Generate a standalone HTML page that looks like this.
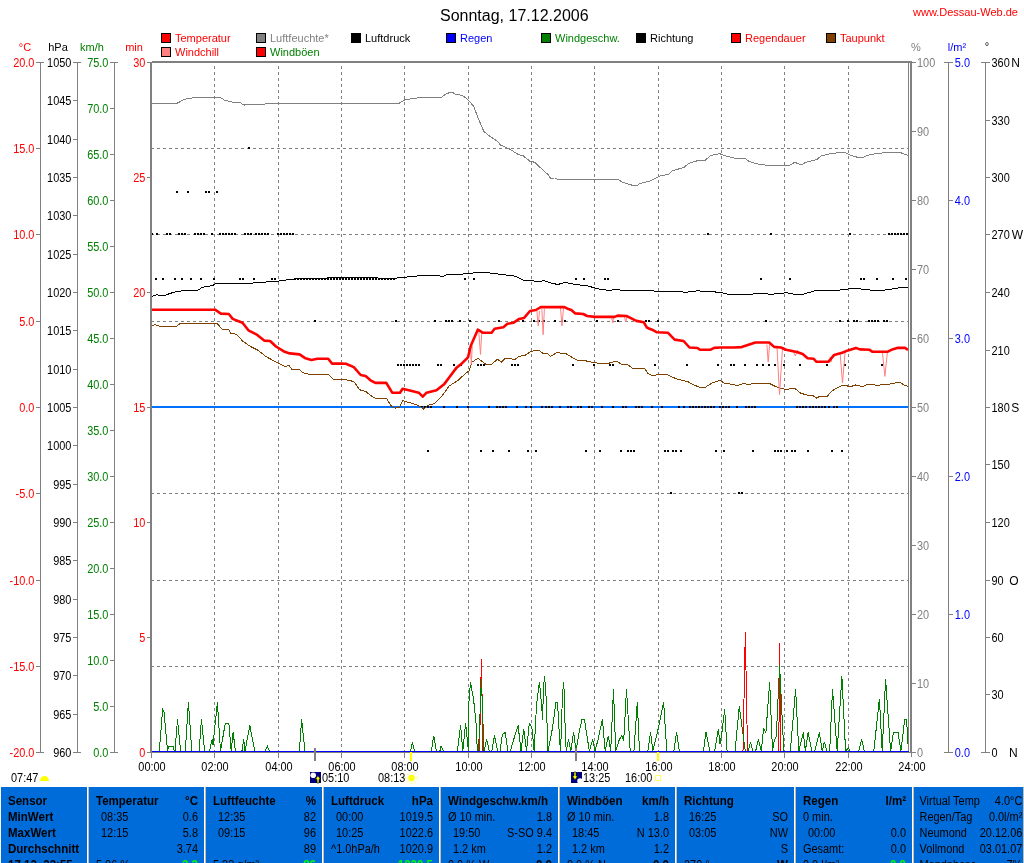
<!DOCTYPE html><html><head><meta charset="utf-8"><style>html,body{margin:0;padding:0;background:#fff;}body{width:1024px;height:863px;overflow:hidden;position:relative;}svg{position:absolute;left:0;top:0;font-family:"Liberation Sans", sans-serif;will-change:transform;}</style></head><body>
<svg width="1024" height="863" viewBox="0 0 1024 863">
<text x="440" y="21" fill="#000" text-anchor="start" font-size="16" >Sonntag, 17.12.2006</text>
<text x="913" y="16" fill="#FF0000" text-anchor="start" font-size="11" >www.Dessau-Web.de</text>
<rect x="161.5" y="33.5" width="9" height="9" fill="#FF0000" stroke="#000" stroke-width="1"/>
<text x="175" y="42" fill="#FF0000" text-anchor="start" font-size="11" >Temperatur</text>
<rect x="256.5" y="33.5" width="9" height="9" fill="#808080" stroke="#000" stroke-width="1"/>
<text x="270" y="42" fill="#808080" text-anchor="start" font-size="11" >Luftfeuchte*</text>
<rect x="351.5" y="33.5" width="9" height="9" fill="#000" stroke="#000" stroke-width="1"/>
<text x="365" y="42" fill="#000" text-anchor="start" font-size="11" >Luftdruck</text>
<rect x="446.5" y="33.5" width="9" height="9" fill="#0000FF" stroke="#000" stroke-width="1"/>
<text x="460" y="42" fill="#0000FF" text-anchor="start" font-size="11" >Regen</text>
<rect x="541.5" y="33.5" width="9" height="9" fill="#008000" stroke="#000" stroke-width="1"/>
<text x="555" y="42" fill="#008000" text-anchor="start" font-size="11" >Windgeschw.</text>
<rect x="636.5" y="33.5" width="9" height="9" fill="#000" stroke="#000" stroke-width="1"/>
<text x="650" y="42" fill="#000" text-anchor="start" font-size="11" >Richtung</text>
<rect x="731.5" y="33.5" width="9" height="9" fill="#FF0000" stroke="#000" stroke-width="1"/>
<text x="745" y="42" fill="#FF0000" text-anchor="start" font-size="11" >Regendauer</text>
<rect x="826.5" y="33.5" width="9" height="9" fill="#804000" stroke="#000" stroke-width="1"/>
<text x="840" y="42" fill="#FF0000" text-anchor="start" font-size="11" >Taupunkt</text>
<rect x="161.5" y="47.5" width="9" height="9" fill="#FF8080" stroke="#000" stroke-width="1"/>
<text x="175" y="56" fill="#FF0000" text-anchor="start" font-size="11" >Windchill</text>
<rect x="256.5" y="47.5" width="9" height="9" fill="#FF0000" stroke="#000" stroke-width="1"/>
<text x="270" y="56" fill="#008000" text-anchor="start" font-size="11" >Windböen</text>
<text x="25" y="51" fill="#FF0000" text-anchor="middle" font-size="11" >°C</text>
<text x="58" y="51" fill="#000" text-anchor="middle" font-size="11" >hPa</text>
<text x="92" y="51" fill="#008000" text-anchor="middle" font-size="11" >km/h</text>
<text x="134" y="51" fill="#FF0000" text-anchor="middle" font-size="11" >min</text>
<text x="916" y="51" fill="#808080" text-anchor="middle" font-size="11" >%</text>
<text x="957" y="51" fill="#0000FF" text-anchor="middle" font-size="11" >l/m²</text>
<text x="987" y="50" fill="#000" text-anchor="middle" font-size="11" >°</text>
<path d="M151 148.5H909 M151 234.5H909 M151 321.5H909 M151 407.5H909 M151 493.5H909 M151 580.5H909 M151 666.5H909 M214.5 66V752 M278.5 66V752 M341.5 66V752 M404.5 66V752 M468.5 66V752 M531.5 66V752 M594.5 66V752 M658.5 66V752 M721.5 66V752 M784.5 66V752 M848.5 66V752" stroke="#808080" stroke-width="1" stroke-dasharray="3 3" fill="none" shape-rendering="crispEdges"/>
<rect x="40" y="62" width="1" height="691" fill="#808080"/>
<rect x="36" y="62" width="8" height="1" fill="#808080"/>
<text x="34.4" y="67" fill="#FF0000" text-anchor="end" font-size="12" textLength="21.26" lengthAdjust="spacingAndGlyphs" >20.0</text>
<rect x="36" y="148" width="4" height="1" fill="#808080"/>
<text x="34.4" y="153" fill="#FF0000" text-anchor="end" font-size="12" textLength="21.26" lengthAdjust="spacingAndGlyphs" >15.0</text>
<rect x="36" y="234" width="4" height="1" fill="#808080"/>
<text x="34.4" y="239" fill="#FF0000" text-anchor="end" font-size="12" textLength="21.26" lengthAdjust="spacingAndGlyphs" >10.0</text>
<rect x="36" y="321" width="4" height="1" fill="#808080"/>
<text x="34.4" y="326" fill="#FF0000" text-anchor="end" font-size="12" textLength="15.19" lengthAdjust="spacingAndGlyphs" >5.0</text>
<rect x="36" y="407" width="4" height="1" fill="#808080"/>
<text x="34.4" y="412" fill="#FF0000" text-anchor="end" font-size="12" textLength="15.19" lengthAdjust="spacingAndGlyphs" >0.0</text>
<rect x="36" y="493" width="4" height="1" fill="#808080"/>
<text x="34.4" y="498" fill="#FF0000" text-anchor="end" font-size="12" textLength="18.82" lengthAdjust="spacingAndGlyphs" >-5.0</text>
<rect x="36" y="580" width="4" height="1" fill="#808080"/>
<text x="34.4" y="585" fill="#FF0000" text-anchor="end" font-size="12" textLength="24.90" lengthAdjust="spacingAndGlyphs" >-10.0</text>
<rect x="36" y="666" width="4" height="1" fill="#808080"/>
<text x="34.4" y="671" fill="#FF0000" text-anchor="end" font-size="12" textLength="24.90" lengthAdjust="spacingAndGlyphs" >-15.0</text>
<rect x="36" y="752" width="8" height="1" fill="#808080"/>
<text x="34.4" y="757" fill="#FF0000" text-anchor="end" font-size="12" textLength="24.90" lengthAdjust="spacingAndGlyphs" >-20.0</text>
<rect x="77" y="62" width="1" height="691" fill="#808080"/>
<rect x="73" y="62" width="8" height="1" fill="#808080"/>
<text x="71.4" y="67" fill="#000" text-anchor="end" font-size="12" textLength="24.30" lengthAdjust="spacingAndGlyphs" >1050</text>
<rect x="73" y="100" width="4" height="1" fill="#808080"/>
<text x="71.4" y="105" fill="#000" text-anchor="end" font-size="12" textLength="24.30" lengthAdjust="spacingAndGlyphs" >1045</text>
<rect x="73" y="139" width="4" height="1" fill="#808080"/>
<text x="71.4" y="144" fill="#000" text-anchor="end" font-size="12" textLength="24.30" lengthAdjust="spacingAndGlyphs" >1040</text>
<rect x="73" y="177" width="4" height="1" fill="#808080"/>
<text x="71.4" y="182" fill="#000" text-anchor="end" font-size="12" textLength="24.30" lengthAdjust="spacingAndGlyphs" >1035</text>
<rect x="73" y="215" width="4" height="1" fill="#808080"/>
<text x="71.4" y="220" fill="#000" text-anchor="end" font-size="12" textLength="24.30" lengthAdjust="spacingAndGlyphs" >1030</text>
<rect x="73" y="254" width="4" height="1" fill="#808080"/>
<text x="71.4" y="259" fill="#000" text-anchor="end" font-size="12" textLength="24.30" lengthAdjust="spacingAndGlyphs" >1025</text>
<rect x="73" y="292" width="4" height="1" fill="#808080"/>
<text x="71.4" y="297" fill="#000" text-anchor="end" font-size="12" textLength="24.30" lengthAdjust="spacingAndGlyphs" >1020</text>
<rect x="73" y="330" width="4" height="1" fill="#808080"/>
<text x="71.4" y="335" fill="#000" text-anchor="end" font-size="12" textLength="24.30" lengthAdjust="spacingAndGlyphs" >1015</text>
<rect x="73" y="369" width="4" height="1" fill="#808080"/>
<text x="71.4" y="374" fill="#000" text-anchor="end" font-size="12" textLength="24.30" lengthAdjust="spacingAndGlyphs" >1010</text>
<rect x="73" y="407" width="4" height="1" fill="#808080"/>
<text x="71.4" y="412" fill="#000" text-anchor="end" font-size="12" textLength="24.30" lengthAdjust="spacingAndGlyphs" >1005</text>
<rect x="73" y="445" width="4" height="1" fill="#808080"/>
<text x="71.4" y="450" fill="#000" text-anchor="end" font-size="12" textLength="24.30" lengthAdjust="spacingAndGlyphs" >1000</text>
<rect x="73" y="484" width="4" height="1" fill="#808080"/>
<text x="71.4" y="489" fill="#000" text-anchor="end" font-size="12" textLength="18.22" lengthAdjust="spacingAndGlyphs" >995</text>
<rect x="73" y="522" width="4" height="1" fill="#808080"/>
<text x="71.4" y="527" fill="#000" text-anchor="end" font-size="12" textLength="18.22" lengthAdjust="spacingAndGlyphs" >990</text>
<rect x="73" y="560" width="4" height="1" fill="#808080"/>
<text x="71.4" y="565" fill="#000" text-anchor="end" font-size="12" textLength="18.22" lengthAdjust="spacingAndGlyphs" >985</text>
<rect x="73" y="599" width="4" height="1" fill="#808080"/>
<text x="71.4" y="604" fill="#000" text-anchor="end" font-size="12" textLength="18.22" lengthAdjust="spacingAndGlyphs" >980</text>
<rect x="73" y="637" width="4" height="1" fill="#808080"/>
<text x="71.4" y="642" fill="#000" text-anchor="end" font-size="12" textLength="18.22" lengthAdjust="spacingAndGlyphs" >975</text>
<rect x="73" y="675" width="4" height="1" fill="#808080"/>
<text x="71.4" y="680" fill="#000" text-anchor="end" font-size="12" textLength="18.22" lengthAdjust="spacingAndGlyphs" >970</text>
<rect x="73" y="714" width="4" height="1" fill="#808080"/>
<text x="71.4" y="719" fill="#000" text-anchor="end" font-size="12" textLength="18.22" lengthAdjust="spacingAndGlyphs" >965</text>
<rect x="73" y="752" width="8" height="1" fill="#808080"/>
<text x="71.4" y="757" fill="#000" text-anchor="end" font-size="12" textLength="18.22" lengthAdjust="spacingAndGlyphs" >960</text>
<rect x="114" y="62" width="1" height="691" fill="#808080"/>
<rect x="110" y="62" width="8" height="1" fill="#808080"/>
<text x="108.4" y="67" fill="#008000" text-anchor="end" font-size="12" textLength="21.26" lengthAdjust="spacingAndGlyphs" >75.0</text>
<rect x="110" y="108" width="4" height="1" fill="#808080"/>
<text x="108.4" y="113" fill="#008000" text-anchor="end" font-size="12" textLength="21.26" lengthAdjust="spacingAndGlyphs" >70.0</text>
<rect x="110" y="154" width="4" height="1" fill="#808080"/>
<text x="108.4" y="159" fill="#008000" text-anchor="end" font-size="12" textLength="21.26" lengthAdjust="spacingAndGlyphs" >65.0</text>
<rect x="110" y="200" width="4" height="1" fill="#808080"/>
<text x="108.4" y="205" fill="#008000" text-anchor="end" font-size="12" textLength="21.26" lengthAdjust="spacingAndGlyphs" >60.0</text>
<rect x="110" y="246" width="4" height="1" fill="#808080"/>
<text x="108.4" y="251" fill="#008000" text-anchor="end" font-size="12" textLength="21.26" lengthAdjust="spacingAndGlyphs" >55.0</text>
<rect x="110" y="292" width="4" height="1" fill="#808080"/>
<text x="108.4" y="297" fill="#008000" text-anchor="end" font-size="12" textLength="21.26" lengthAdjust="spacingAndGlyphs" >50.0</text>
<rect x="110" y="338" width="4" height="1" fill="#808080"/>
<text x="108.4" y="343" fill="#008000" text-anchor="end" font-size="12" textLength="21.26" lengthAdjust="spacingAndGlyphs" >45.0</text>
<rect x="110" y="384" width="4" height="1" fill="#808080"/>
<text x="108.4" y="389" fill="#008000" text-anchor="end" font-size="12" textLength="21.26" lengthAdjust="spacingAndGlyphs" >40.0</text>
<rect x="110" y="430" width="4" height="1" fill="#808080"/>
<text x="108.4" y="435" fill="#008000" text-anchor="end" font-size="12" textLength="21.26" lengthAdjust="spacingAndGlyphs" >35.0</text>
<rect x="110" y="476" width="4" height="1" fill="#808080"/>
<text x="108.4" y="481" fill="#008000" text-anchor="end" font-size="12" textLength="21.26" lengthAdjust="spacingAndGlyphs" >30.0</text>
<rect x="110" y="522" width="4" height="1" fill="#808080"/>
<text x="108.4" y="527" fill="#008000" text-anchor="end" font-size="12" textLength="21.26" lengthAdjust="spacingAndGlyphs" >25.0</text>
<rect x="110" y="568" width="4" height="1" fill="#808080"/>
<text x="108.4" y="573" fill="#008000" text-anchor="end" font-size="12" textLength="21.26" lengthAdjust="spacingAndGlyphs" >20.0</text>
<rect x="110" y="614" width="4" height="1" fill="#808080"/>
<text x="108.4" y="619" fill="#008000" text-anchor="end" font-size="12" textLength="21.26" lengthAdjust="spacingAndGlyphs" >15.0</text>
<rect x="110" y="660" width="4" height="1" fill="#808080"/>
<text x="108.4" y="665" fill="#008000" text-anchor="end" font-size="12" textLength="21.26" lengthAdjust="spacingAndGlyphs" >10.0</text>
<rect x="110" y="706" width="4" height="1" fill="#808080"/>
<text x="108.4" y="711" fill="#008000" text-anchor="end" font-size="12" textLength="15.19" lengthAdjust="spacingAndGlyphs" >5.0</text>
<rect x="110" y="752" width="8" height="1" fill="#808080"/>
<text x="108.4" y="757" fill="#008000" text-anchor="end" font-size="12" textLength="15.19" lengthAdjust="spacingAndGlyphs" >0.0</text>
<rect x="147" y="62" width="3" height="1" fill="#808080"/>
<text x="145.4" y="67" fill="#FF0000" text-anchor="end" font-size="12" textLength="12.15" lengthAdjust="spacingAndGlyphs" >30</text>
<rect x="147" y="177" width="3" height="1" fill="#808080"/>
<text x="145.4" y="182" fill="#FF0000" text-anchor="end" font-size="12" textLength="12.15" lengthAdjust="spacingAndGlyphs" >25</text>
<rect x="147" y="292" width="3" height="1" fill="#808080"/>
<text x="145.4" y="297" fill="#FF0000" text-anchor="end" font-size="12" textLength="12.15" lengthAdjust="spacingAndGlyphs" >20</text>
<rect x="147" y="407" width="3" height="1" fill="#808080"/>
<text x="145.4" y="412" fill="#FF0000" text-anchor="end" font-size="12" textLength="12.15" lengthAdjust="spacingAndGlyphs" >15</text>
<rect x="147" y="522" width="3" height="1" fill="#808080"/>
<text x="145.4" y="527" fill="#FF0000" text-anchor="end" font-size="12" textLength="12.15" lengthAdjust="spacingAndGlyphs" >10</text>
<rect x="147" y="637" width="3" height="1" fill="#808080"/>
<text x="145.4" y="642" fill="#FF0000" text-anchor="end" font-size="12" textLength="6.07" lengthAdjust="spacingAndGlyphs" >5</text>
<rect x="147" y="752" width="3" height="1" fill="#808080"/>
<text x="145.4" y="757" fill="#FF0000" text-anchor="end" font-size="12" textLength="6.07" lengthAdjust="spacingAndGlyphs" >0</text>
<rect x="912" y="62" width="4" height="1" fill="#808080"/>
<text x="917" y="67" fill="#808080" text-anchor="start" font-size="12" textLength="18.22" lengthAdjust="spacingAndGlyphs" >100</text>
<rect x="912" y="131" width="4" height="1" fill="#808080"/>
<text x="917" y="136" fill="#808080" text-anchor="start" font-size="12" textLength="12.15" lengthAdjust="spacingAndGlyphs" >90</text>
<rect x="912" y="200" width="4" height="1" fill="#808080"/>
<text x="917" y="205" fill="#808080" text-anchor="start" font-size="12" textLength="12.15" lengthAdjust="spacingAndGlyphs" >80</text>
<rect x="912" y="269" width="4" height="1" fill="#808080"/>
<text x="917" y="274" fill="#808080" text-anchor="start" font-size="12" textLength="12.15" lengthAdjust="spacingAndGlyphs" >70</text>
<rect x="912" y="338" width="4" height="1" fill="#808080"/>
<text x="917" y="343" fill="#808080" text-anchor="start" font-size="12" textLength="12.15" lengthAdjust="spacingAndGlyphs" >60</text>
<rect x="912" y="407" width="4" height="1" fill="#808080"/>
<text x="917" y="412" fill="#808080" text-anchor="start" font-size="12" textLength="12.15" lengthAdjust="spacingAndGlyphs" >50</text>
<rect x="912" y="476" width="4" height="1" fill="#808080"/>
<text x="917" y="481" fill="#808080" text-anchor="start" font-size="12" textLength="12.15" lengthAdjust="spacingAndGlyphs" >40</text>
<rect x="912" y="545" width="4" height="1" fill="#808080"/>
<text x="917" y="550" fill="#808080" text-anchor="start" font-size="12" textLength="12.15" lengthAdjust="spacingAndGlyphs" >30</text>
<rect x="912" y="614" width="4" height="1" fill="#808080"/>
<text x="917" y="619" fill="#808080" text-anchor="start" font-size="12" textLength="12.15" lengthAdjust="spacingAndGlyphs" >20</text>
<rect x="912" y="683" width="4" height="1" fill="#808080"/>
<text x="917" y="688" fill="#808080" text-anchor="start" font-size="12" textLength="12.15" lengthAdjust="spacingAndGlyphs" >10</text>
<rect x="912" y="752" width="4" height="1" fill="#808080"/>
<text x="917" y="757" fill="#808080" text-anchor="start" font-size="12" textLength="6.07" lengthAdjust="spacingAndGlyphs" >0</text>
<rect x="948" y="62" width="1" height="691" fill="#808080"/>
<rect x="944" y="62" width="9" height="1" fill="#808080"/>
<text x="954.8" y="67" fill="#0000FF" text-anchor="start" font-size="12" textLength="15.19" lengthAdjust="spacingAndGlyphs" >5.0</text>
<rect x="949" y="200" width="4" height="1" fill="#808080"/>
<text x="954.8" y="205" fill="#0000FF" text-anchor="start" font-size="12" textLength="15.19" lengthAdjust="spacingAndGlyphs" >4.0</text>
<rect x="949" y="338" width="4" height="1" fill="#808080"/>
<text x="954.8" y="343" fill="#0000FF" text-anchor="start" font-size="12" textLength="15.19" lengthAdjust="spacingAndGlyphs" >3.0</text>
<rect x="949" y="476" width="4" height="1" fill="#808080"/>
<text x="954.8" y="481" fill="#0000FF" text-anchor="start" font-size="12" textLength="15.19" lengthAdjust="spacingAndGlyphs" >2.0</text>
<rect x="949" y="614" width="4" height="1" fill="#808080"/>
<text x="954.8" y="619" fill="#0000FF" text-anchor="start" font-size="12" textLength="15.19" lengthAdjust="spacingAndGlyphs" >1.0</text>
<rect x="944" y="752" width="9" height="1" fill="#808080"/>
<text x="954.8" y="757" fill="#0000FF" text-anchor="start" font-size="12" textLength="15.19" lengthAdjust="spacingAndGlyphs" >0.0</text>
<rect x="985" y="62" width="1" height="691" fill="#808080"/>
<rect x="981" y="62" width="9" height="1" fill="#808080"/>
<text x="991.5" y="67" fill="#000" text-anchor="start" font-size="12" textLength="18.22" lengthAdjust="spacingAndGlyphs" >360</text>
<text x="1011.3" y="67" fill="#000" text-anchor="start" font-size="12" >N</text>
<rect x="986" y="120" width="4" height="1" fill="#808080"/>
<text x="991.5" y="125" fill="#000" text-anchor="start" font-size="12" textLength="18.22" lengthAdjust="spacingAndGlyphs" >330</text>
<rect x="986" y="177" width="4" height="1" fill="#808080"/>
<text x="991.5" y="182" fill="#000" text-anchor="start" font-size="12" textLength="18.22" lengthAdjust="spacingAndGlyphs" >300</text>
<rect x="986" y="234" width="4" height="1" fill="#808080"/>
<text x="991.5" y="239" fill="#000" text-anchor="start" font-size="12" textLength="18.22" lengthAdjust="spacingAndGlyphs" >270</text>
<text x="1011.8" y="239" fill="#000" text-anchor="start" font-size="12" >W</text>
<rect x="986" y="292" width="4" height="1" fill="#808080"/>
<text x="991.5" y="297" fill="#000" text-anchor="start" font-size="12" textLength="18.22" lengthAdjust="spacingAndGlyphs" >240</text>
<rect x="986" y="350" width="4" height="1" fill="#808080"/>
<text x="991.5" y="355" fill="#000" text-anchor="start" font-size="12" textLength="18.22" lengthAdjust="spacingAndGlyphs" >210</text>
<rect x="986" y="407" width="4" height="1" fill="#808080"/>
<text x="991.5" y="412" fill="#000" text-anchor="start" font-size="12" textLength="18.22" lengthAdjust="spacingAndGlyphs" >180</text>
<text x="1011.3" y="412" fill="#000" text-anchor="start" font-size="12" >S</text>
<rect x="986" y="464" width="4" height="1" fill="#808080"/>
<text x="991.5" y="469" fill="#000" text-anchor="start" font-size="12" textLength="18.22" lengthAdjust="spacingAndGlyphs" >150</text>
<rect x="986" y="522" width="4" height="1" fill="#808080"/>
<text x="991.5" y="527" fill="#000" text-anchor="start" font-size="12" textLength="18.22" lengthAdjust="spacingAndGlyphs" >120</text>
<rect x="986" y="580" width="4" height="1" fill="#808080"/>
<text x="991.5" y="585" fill="#000" text-anchor="start" font-size="12" textLength="12.15" lengthAdjust="spacingAndGlyphs" >90</text>
<text x="1009.3" y="585" fill="#000" text-anchor="start" font-size="12" >O</text>
<rect x="986" y="637" width="4" height="1" fill="#808080"/>
<text x="991.5" y="642" fill="#000" text-anchor="start" font-size="12" textLength="12.15" lengthAdjust="spacingAndGlyphs" >60</text>
<rect x="986" y="694" width="4" height="1" fill="#808080"/>
<text x="991.5" y="699" fill="#000" text-anchor="start" font-size="12" textLength="12.15" lengthAdjust="spacingAndGlyphs" >30</text>
<rect x="981" y="752" width="9" height="1" fill="#808080"/>
<text x="991.5" y="757" fill="#000" text-anchor="start" font-size="12" textLength="6.07" lengthAdjust="spacingAndGlyphs" >0</text>
<text x="1009" y="757" fill="#000" text-anchor="start" font-size="12" >N</text>
<path d="M152.0 103.2 L177.2 103.2 L184.5 99.3 L190.4 98.3 L196.3 97.3 L219.9 97.3 L224.8 100.3 L232.7 102.2 L240.6 102.8 L244.1 105.2 L245.5 104.4 L264.2 104.4 L267.1 103.2 L340.0 103.2 L399.1 103.2 L405.0 99.7 L418.8 97.7 L441.4 97.3 L446.3 93.8 L450.3 92.4 L453.2 92.8 L455.2 94.4 L462.1 95.2 L468.0 99.7 L473.9 106.6 L477.8 117.4 L483.7 131.2 L489.6 136.1 L497.5 141.4 L500.5 145.0 L509.3 148.9 L518.2 154.4 L523.1 155.8 L530.0 161.3 L534.9 162.3 L543.8 171.0 L547.7 174.1 L550.7 178.4 L554.6 178.0 L557.6 179.4 L618.6 179.4 L621.6 182.0 L632.4 185.3 L637.3 185.3 L640.3 183.4 L650.1 181.0 L660.0 176.1 L668.8 174.1 L672.7 170.6 L683.6 167.6 L688.5 163.7 L695.4 161.1 L705.2 160.3 L710.2 155.8 L715.1 154.4 L720.0 153.8 L723.9 155.4 L735.8 158.4 L745.6 158.4 L747.6 160.7 L756.4 163.7 L765.3 165.1 L789.9 165.1 L794.8 162.3 L799.7 164.3 L802.7 164.3 L805.6 162.3 L816.5 159.7 L821.4 155.8 L830.3 153.8 L840.1 152.5 L845.0 152.5 L850.9 155.4 L857.8 157.4 L862.7 157.4 L870.6 154.4 L883.4 152.8 L900.2 152.5 L908.0 155.4" stroke="#808080" stroke-width="1" fill="none" shape-rendering="crispEdges"/>
<rect x="152" y="406" width="757" height="2" fill="#0070FF"/>
<path d="M248 147h2v2h-2z M176 191h2v2h-2z M187 191h2v2h-2z M205 191h2v2h-2z M208 191h2v2h-2z M216 191h2v2h-2z M151 233h2v2h-2z M156 233h2v2h-2z M166 233h2v2h-2z M169 233h2v2h-2z M178 233h2v2h-2z M181 233h2v2h-2z M184 233h2v2h-2z M194 233h2v2h-2z M197 233h2v2h-2z M200 233h2v2h-2z M203 233h2v2h-2z M211 233h2v2h-2z M219 233h2v2h-2z M222 233h2v2h-2z M225 233h2v2h-2z M228 233h2v2h-2z M231 233h2v2h-2z M234 233h2v2h-2z M244 233h2v2h-2z M247 233h2v2h-2z M250 233h2v2h-2z M255 233h2v2h-2z M258 233h2v2h-2z M261 233h2v2h-2z M264 233h2v2h-2z M267 233h2v2h-2z M277 233h2v2h-2z M280 233h2v2h-2z M283 233h2v2h-2z M286 233h2v2h-2z M289 233h2v2h-2z M292 233h2v2h-2z M707 233h2v2h-2z M770 233h2v2h-2z M849 233h2v2h-2z M888 233h2v2h-2z M891 233h2v2h-2z M894 233h2v2h-2z M897 233h2v2h-2z M900 233h2v2h-2z M903 233h2v2h-2z M906 233h2v2h-2z M155 278h2v2h-2z M162 278h2v2h-2z M174 278h2v2h-2z M181 278h2v2h-2z M190 278h2v2h-2z M200 278h2v2h-2z M213 278h2v2h-2z M239 278h2v2h-2z M242 278h2v2h-2z M253 278h2v2h-2z M271 278h2v2h-2z M274 278h2v2h-2z M294 278h2v2h-2z M297 278h2v2h-2z M300 278h2v2h-2z M303 278h2v2h-2z M306 278h2v2h-2z M309 278h2v2h-2z M312 278h2v2h-2z M315 278h2v2h-2z M318 278h2v2h-2z M321 278h2v2h-2z M324 278h2v2h-2z M327 278h2v2h-2z M330 278h2v2h-2z M333 278h2v2h-2z M336 278h2v2h-2z M339 278h2v2h-2z M342 278h2v2h-2z M345 278h2v2h-2z M348 278h2v2h-2z M351 278h2v2h-2z M354 278h2v2h-2z M357 278h2v2h-2z M360 278h2v2h-2z M363 278h2v2h-2z M366 278h2v2h-2z M369 278h2v2h-2z M372 278h2v2h-2z M375 278h2v2h-2z M378 278h2v2h-2z M381 278h2v2h-2z M384 278h2v2h-2z M387 278h2v2h-2z M390 278h2v2h-2z M393 278h2v2h-2z M464 278h2v2h-2z M473 278h2v2h-2z M575 278h2v2h-2z M583 278h2v2h-2z M604 278h2v2h-2z M607 278h2v2h-2z M760 278h2v2h-2z M789 278h2v2h-2z M860 278h2v2h-2z M863 278h2v2h-2z M876 278h2v2h-2z M892 278h2v2h-2z M905 278h2v2h-2z M314 320h2v2h-2z M395 320h2v2h-2z M434 320h2v2h-2z M445 320h2v2h-2z M448 320h2v2h-2z M451 320h2v2h-2z M459 320h2v2h-2z M469 320h2v2h-2z M498 320h2v2h-2z M522 320h2v2h-2z M533 320h2v2h-2z M538 320h2v2h-2z M543 320h2v2h-2z M554 320h2v2h-2z M561 320h2v2h-2z M564 320h2v2h-2z M596 320h2v2h-2z M617 320h2v2h-2z M645 320h2v2h-2z M648 320h2v2h-2z M657 320h2v2h-2z M765 320h2v2h-2z M839 320h2v2h-2z M847 320h2v2h-2z M853 320h2v2h-2z M856 320h2v2h-2z M868 320h2v2h-2z M871 320h2v2h-2z M874 320h2v2h-2z M877 320h2v2h-2z M883 320h2v2h-2z M886 320h2v2h-2z M397 364h2v2h-2z M400 364h2v2h-2z M403 364h2v2h-2z M406 364h2v2h-2z M409 364h2v2h-2z M412 364h2v2h-2z M415 364h2v2h-2z M418 364h2v2h-2z M437 364h2v2h-2z M440 364h2v2h-2z M453 364h2v2h-2z M460 364h2v2h-2z M477 364h2v2h-2z M480 364h2v2h-2z M483 364h2v2h-2z M511 364h2v2h-2z M514 364h2v2h-2z M517 364h2v2h-2z M572 364h2v2h-2z M593 364h2v2h-2z M609 364h2v2h-2z M612 364h2v2h-2z M654 364h2v2h-2z M686 364h2v2h-2z M717 364h2v2h-2z M730 364h2v2h-2z M733 364h2v2h-2z M744 364h2v2h-2z M756 364h2v2h-2z M762 364h2v2h-2z M768 364h2v2h-2z M774 364h2v2h-2z M783 364h2v2h-2z M799 364h2v2h-2z M826 364h2v2h-2z M844 364h2v2h-2z M881 364h2v2h-2z M421 406h2v2h-2z M424 406h2v2h-2z M427 406h2v2h-2z M430 406h2v2h-2z M443 406h2v2h-2z M456 406h2v2h-2z M467 406h2v2h-2z M488 406h2v2h-2z M496 406h2v2h-2z M499 406h2v2h-2z M502 406h2v2h-2z M505 406h2v2h-2z M516 406h2v2h-2z M525 406h2v2h-2z M530 406h2v2h-2z M541 406h2v2h-2z M545 406h2v2h-2z M548 406h2v2h-2z M551 406h2v2h-2z M559 406h2v2h-2z M567 406h2v2h-2z M570 406h2v2h-2z M577 406h2v2h-2z M580 406h2v2h-2z M588 406h2v2h-2z M591 406h2v2h-2z M601 406h2v2h-2z M612 406h2v2h-2z M622 406h2v2h-2z M625 406h2v2h-2z M635 406h2v2h-2z M638 406h2v2h-2z M641 406h2v2h-2z M651 406h2v2h-2z M661 406h2v2h-2z M678 406h2v2h-2z M683 406h2v2h-2z M689 406h2v2h-2z M692 406h2v2h-2z M695 406h2v2h-2z M698 406h2v2h-2z M701 406h2v2h-2z M704 406h2v2h-2z M707 406h2v2h-2z M710 406h2v2h-2z M713 406h2v2h-2z M719 406h2v2h-2z M722 406h2v2h-2z M725 406h2v2h-2z M728 406h2v2h-2z M736 406h2v2h-2z M745 406h2v2h-2z M748 406h2v2h-2z M751 406h2v2h-2z M754 406h2v2h-2z M796 406h2v2h-2z M799 406h2v2h-2z M802 406h2v2h-2z M805 406h2v2h-2z M809 406h2v2h-2z M812 406h2v2h-2z M815 406h2v2h-2z M818 406h2v2h-2z M821 406h2v2h-2z M824 406h2v2h-2z M828 406h2v2h-2z M833 406h2v2h-2z M836 406h2v2h-2z M427 450h2v2h-2z M480 450h2v2h-2z M492 450h2v2h-2z M508 450h2v2h-2z M527 450h2v2h-2z M535 450h2v2h-2z M585 450h2v2h-2z M599 450h2v2h-2z M620 450h2v2h-2z M627 450h2v2h-2z M630 450h2v2h-2z M633 450h2v2h-2z M664 450h2v2h-2z M667 450h2v2h-2z M672 450h2v2h-2z M675 450h2v2h-2z M680 450h2v2h-2z M715 450h2v2h-2z M723 450h2v2h-2z M752 450h2v2h-2z M774 450h2v2h-2z M777 450h2v2h-2z M780 450h2v2h-2z M786 450h2v2h-2z M791 450h2v2h-2z M794 450h2v2h-2z M807 450h2v2h-2z M831 450h2v2h-2z M841 450h2v2h-2z M670 492h2v2h-2z M738 492h2v2h-2z M741 492h2v2h-2z" fill="#000" shape-rendering="crispEdges"/>
<path d="M152.0 296.3 L155.9 294.9 L164.8 295.3 L173.6 292.3 L184.5 290.4 L198.2 290.0 L202.2 287.4 L213.0 285.4 L215.0 284.0 L246.5 283.9 L256.3 282.5 L276.0 281.5 L291.8 279.1 L340.0 277.6 L395.1 278.2 L414.8 276.2 L424.7 275.2 L438.4 275.2 L441.4 277.0 L447.3 274.6 L458.1 275.0 L463.1 274.0 L481.8 272.2 L489.6 273.0 L503.4 274.6 L515.2 276.2 L523.1 280.1 L530.0 280.1 L537.9 281.9 L543.8 280.5 L551.7 283.1 L557.6 284.5 L565.4 282.5 L575.3 284.5 L587.1 285.8 L598.9 289.0 L608.8 290.4 L616.6 289.4 L622.5 290.6 L652.1 290.6 L656.0 291.3 L681.6 291.9 L685.5 292.3 L697.4 290.8 L720.0 292.3 L727.9 294.3 L739.7 294.9 L741.7 294.3 L765.3 293.7 L771.2 294.3 L786.9 292.7 L794.8 294.3 L802.7 294.3 L816.5 290.4 L838.1 290.4 L843.1 289.4 L855.9 288.4 L873.6 290.4 L885.4 290.0 L904.1 287.0 L908.0 287.0" stroke="#000" stroke-width="1" fill="none" shape-rendering="crispEdges"/>
<path d="M152.0 325.8 L154.9 324.4 L159.8 326.4 L176.6 326.4 L180.5 323.2 L217.0 323.2 L221.9 329.1 L228.8 329.7 L230.7 333.1 L236.6 334.3 L242.5 341.0 L250.4 346.5 L258.3 350.4 L266.2 356.7 L278.0 363.2 L285.9 366.8 L288.8 365.2 L291.8 369.1 L299.6 369.5 L302.6 372.5 L311.4 375.0 L315.4 374.0 L328.2 374.0 L333.1 379.0 L340.0 379.0 L346.9 380.0 L353.8 381.5 L359.7 389.8 L365.6 391.4 L371.5 396.1 L375.4 398.1 L386.3 398.1 L391.2 405.9 L395.1 408.1 L399.1 407.5 L402.6 400.6 L406.9 402.0 L412.8 403.6 L420.7 406.5 L423.7 409.1 L427.6 405.5 L434.5 403.6 L442.4 395.3 L449.3 385.9 L458.1 380.3 L466.0 373.1 L469.0 371.1 L471.9 362.2 L477.8 358.3 L485.7 364.2 L491.6 364.2 L497.5 359.3 L501.4 362.2 L505.4 358.3 L515.2 359.3 L519.2 356.3 L525.1 355.3 L530.0 352.0 L534.9 350.4 L539.8 350.8 L542.8 353.4 L547.7 354.0 L550.7 356.3 L556.6 352.8 L565.4 353.4 L577.3 360.3 L585.1 360.7 L589.1 361.6 L597.9 363.2 L608.8 363.2 L616.6 361.2 L621.6 364.2 L627.5 364.6 L632.4 368.1 L638.3 368.7 L644.2 368.1 L648.1 373.6 L653.1 376.0 L659.0 374.0 L667.8 375.0 L676.7 379.0 L687.5 381.5 L693.4 384.9 L700.3 387.4 L705.2 387.4 L712.1 382.9 L720.0 380.5 L723.9 382.9 L737.7 385.5 L743.6 383.5 L748.5 384.5 L755.4 383.3 L769.2 383.3 L776.1 386.8 L785.0 389.4 L794.8 388.4 L800.7 393.3 L808.6 395.3 L812.5 395.3 L816.5 398.1 L820.4 396.1 L827.3 396.1 L832.2 390.8 L837.1 387.8 L844.0 384.9 L850.0 386.8 L855.9 384.9 L862.7 386.8 L867.7 384.3 L877.5 385.3 L891.3 383.9 L897.2 382.3 L901.1 382.9 L904.1 385.3 L908.0 386.2" stroke="#804000" stroke-width="1" fill="none" shape-rendering="crispEdges"/>
<path d="M470.3 345.5 L471.3 364.2 L472.3 345.5 M478.8 331.7 L480.5 354.4 L481.8 331.7 M536.9 311.0 L538.2 325.8 L539.5 311.0 M541.8 309.0 L543.1 334.7 L544.4 309.0 M560.5 308.0 L562.0 325.8 L563.5 308.0 M611.7 317.0 L612.7 323.0 L613.7 317.0 M624.5 317.0 L625.7 322.0 L626.9 317.0 M766.9 344.5 L768.2 362.0 L769.6 344.5 M777.0 347.0 L779.5 394.7 L782.6 347.0 M792.8 350.0 L795.3 356.0 L797.8 350.0 M830.0 357.0 L831.0 362.0 L832.0 357.0 M840.1 353.0 L842.5 383.0 L845.0 353.0 M882.4 352.0 L884.9 376.4 L887.4 352.0" stroke="#FF8080" stroke-width="1" fill="none"/>
<path d="M152.0 309.7 L215.0 309.7 L220.9 313.6 L228.8 314.0 L232.7 318.9 L238.6 321.3 L242.5 322.8 L248.4 330.3 L256.3 334.3 L264.2 340.6 L270.1 341.0 L276.0 346.5 L283.9 351.4 L289.8 353.4 L299.6 354.4 L305.5 358.3 L311.4 359.9 L317.4 358.7 L328.2 358.7 L332.1 363.6 L340.0 363.6 L345.9 363.8 L353.8 367.1 L360.7 375.0 L365.6 376.0 L370.5 380.3 L375.4 382.9 L386.3 382.9 L392.2 392.7 L400.0 392.7 L402.6 388.8 L412.8 391.2 L418.8 392.7 L422.7 396.7 L426.6 392.7 L436.5 390.2 L444.4 383.9 L450.3 376.0 L456.2 368.1 L462.1 363.2 L468.0 357.3 L470.9 345.5 L477.8 329.7 L482.7 332.7 L491.6 332.7 L494.6 328.8 L503.4 327.2 L507.4 323.8 L513.3 322.8 L519.2 318.9 L524.1 317.9 L530.0 311.0 L535.9 310.0 L540.8 307.1 L564.5 307.1 L568.4 309.1 L571.3 310.0 L575.3 313.4 L583.2 314.0 L587.1 316.0 L595.0 316.9 L614.7 316.9 L617.6 315.6 L626.5 316.0 L630.4 317.9 L636.3 320.9 L643.8 322.3 L647.1 327.8 L652.1 329.7 L657.0 332.3 L667.8 332.7 L674.7 339.6 L683.6 341.0 L689.5 347.5 L697.4 348.0 L700.3 349.8 L710.2 349.8 L714.1 347.9 L720.0 347.5 L733.8 347.5 L741.7 347.1 L755.4 342.5 L769.2 342.5 L774.1 346.9 L781.0 347.5 L786.0 349.8 L796.8 352.0 L802.7 354.0 L807.6 358.3 L813.5 358.7 L816.5 361.8 L828.3 361.8 L834.2 354.9 L842.1 352.8 L848.0 350.4 L855.9 347.9 L859.8 349.4 L869.6 349.8 L872.6 351.8 L887.4 351.8 L892.3 349.4 L897.2 347.9 L905.1 347.9 L908.0 350.0" stroke="#FF0000" stroke-width="2.6" fill="none" stroke-linejoin="round"/>
<path d="M479.5 751.0 L481.4 658.6 L483.0 751.0 M743.0 751.0 L745.3 632.2 L747.5 751.0 M778.8 751.0 L779.6 642.9 L780.6 751.0" stroke="#FF0000" stroke-width="1" fill="none" shape-rendering="crispEdges"/>
<path d="M152.0 751.3 L159.3 751.3 L162.6 709.6 L164.0 712.0 L167.6 751.3 L168.6 746.1 L173.2 746.1 L174.2 751.3 L175.0 751.3 L177.5 719.4 L180.6 751.3 L185.3 751.3 L188.4 702.2 L191.8 751.3 L199.2 751.3 L201.4 719.4 L204.7 751.3 L209.4 751.3 L212.2 739.3 L213.0 745.0 L217.4 702.2 L220.5 751.3 L225.2 723.5 L228.9 723.5 L231.2 751.3 L233.1 731.9 L235.4 751.3 L241.9 751.3 L243.7 739.3 L245.0 751.0 L249.8 725.4 L254.8 751.3 L265.0 751.3 L267.3 746.1 L269.7 751.3 L299.4 751.3 L301.6 719.4 L305.0 751.3 L410.5 751.3 L412.4 742.0 L414.6 751.3 L431.3 751.3 L433.7 735.6 L436.5 751.3 L439.8 751.3 L441.1 746.1 L443.5 751.3 L457.3 751.3 L460.6 725.4 L462.8 751.3 L465.6 723.5 L468.5 751.3 L469.0 701.2 L470.5 682.3 L473.6 699.4 L476.4 727.2 L477.3 751.3 L478.5 751.3 L481.4 679.0 L484.0 751.3 L486.6 739.3 L489.4 751.3 L491.8 751.3 L494.4 735.6 L497.7 751.3 L500.0 751.3 L502.4 734.7 L505.1 732.4 L508.0 751.3 L510.3 751.3 L513.5 740.2 L518.1 725.4 L521.0 751.3 L523.7 729.0 L526.5 751.3 L529.3 723.5 L531.9 727.2 L534.1 751.3 L536.5 705.0 L539.3 682.3 L540.2 689.2 L542.1 712.4 L542.6 719.8 L543.4 689.2 L544.5 676.2 L545.8 690.1 L546.7 714.2 L548.0 751.3 L552.3 729.1 L556.0 702.2 L557.5 702.2 L559.7 741.1 L560.6 751.3 L562.5 693.8 L563.8 682.3 L565.3 732.8 L566.2 751.3 L568.6 739.3 L570.8 751.3 L573.6 731.9 L576.0 751.3 L579.2 731.9 L582.0 719.4 L584.4 719.4 L589.4 751.3 L592.7 739.3 L594.9 751.3 L597.7 741.1 L602.4 719.4 L605.2 751.3 L608.3 735.6 L610.7 751.3 L613.5 689.2 L615.7 751.3 L619.4 739.3 L621.9 735.6 L623.7 741.1 L626.5 689.2 L630.2 751.3 L633.9 751.3 L637.3 702.2 L639.5 751.3 L647.8 751.3 L650.6 731.9 L652.8 751.3 L659.0 725.4 L663.6 702.2 L666.8 751.3 L673.8 751.3 L676.6 731.9 L679.4 751.3 L703.5 751.3 L705.9 731.9 L710.0 751.3 L714.6 751.3 L718.3 729.1 L720.0 743.8 L721.9 732.5 L724.7 709.1 L727.1 751.3 L735.0 751.3 L739.3 706.3 L745.3 751.3 L748.1 751.3 L750.6 741.9 L752.8 751.3 L755.6 751.3 L758.4 739.1 L761.3 751.3 L763.5 728.8 L765.9 732.5 L769.7 681.9 L772.5 751.3 L774.4 740.0 L776.3 736.3 L779.6 665.0 L783.8 751.3 L790.3 751.3 L795.6 689.4 L798.8 751.3 L803.4 732.5 L805.3 751.3 L808.1 732.5 L811.9 751.3 L814.7 751.3 L819.4 732.5 L822.2 751.3 L824.4 741.9 L826.9 751.3 L829.7 751.3 L832.5 689.4 L837.2 751.3 L841.9 676.3 L845.6 751.3 L848.4 747.5 L850.3 751.3 L858.8 751.3 L861.6 739.1 L864.4 751.3 L873.8 751.3 L879.4 698.8 L882.2 751.3 L885.6 679.1 L890.6 751.3 L893.4 732.5 L898.1 732.5 L900.9 751.3 L904.7 719.4 L906.6 719.4 L908.4 751.3" stroke="#008000" stroke-width="1" fill="none" shape-rendering="crispEdges"/>
<rect x="150" y="62" width="2" height="691" fill="#808080"/>
<rect x="152" y="61" width="760" height="2" fill="#808080"/>
<rect x="908" y="62" width="1" height="691" fill="#808080"/>
<rect x="910" y="61" width="2" height="692" fill="#808080"/>
<rect x="151" y="753" width="1" height="5" fill="#808080"/>
<rect x="911" y="753" width="1" height="4" fill="#808080"/>
<rect x="151" y="752" width="761" height="1" fill="#808080"/>
<text x="152" y="771" fill="#000" text-anchor="middle" font-size="12" textLength="27.34" lengthAdjust="spacingAndGlyphs" >00:00</text>
<rect x="214" y="753" width="1" height="5" fill="#808080"/>
<text x="215" y="771" fill="#000" text-anchor="middle" font-size="12" textLength="27.34" lengthAdjust="spacingAndGlyphs" >02:00</text>
<rect x="278" y="753" width="1" height="5" fill="#808080"/>
<text x="279" y="771" fill="#000" text-anchor="middle" font-size="12" textLength="27.34" lengthAdjust="spacingAndGlyphs" >04:00</text>
<rect x="341" y="753" width="1" height="5" fill="#808080"/>
<text x="342" y="771" fill="#000" text-anchor="middle" font-size="12" textLength="27.34" lengthAdjust="spacingAndGlyphs" >06:00</text>
<rect x="404" y="753" width="1" height="5" fill="#808080"/>
<text x="405" y="771" fill="#000" text-anchor="middle" font-size="12" textLength="27.34" lengthAdjust="spacingAndGlyphs" >08:00</text>
<rect x="468" y="753" width="1" height="5" fill="#808080"/>
<text x="469" y="771" fill="#000" text-anchor="middle" font-size="12" textLength="27.34" lengthAdjust="spacingAndGlyphs" >10:00</text>
<rect x="531" y="753" width="1" height="5" fill="#808080"/>
<text x="532" y="771" fill="#000" text-anchor="middle" font-size="12" textLength="27.34" lengthAdjust="spacingAndGlyphs" >12:00</text>
<rect x="594" y="753" width="1" height="5" fill="#808080"/>
<text x="595" y="771" fill="#000" text-anchor="middle" font-size="12" textLength="27.34" lengthAdjust="spacingAndGlyphs" >14:00</text>
<rect x="658" y="753" width="1" height="5" fill="#808080"/>
<text x="659" y="771" fill="#000" text-anchor="middle" font-size="12" textLength="27.34" lengthAdjust="spacingAndGlyphs" >16:00</text>
<rect x="721" y="753" width="1" height="5" fill="#808080"/>
<text x="722" y="771" fill="#000" text-anchor="middle" font-size="12" textLength="27.34" lengthAdjust="spacingAndGlyphs" >18:00</text>
<rect x="784" y="753" width="1" height="5" fill="#808080"/>
<text x="785" y="771" fill="#000" text-anchor="middle" font-size="12" textLength="27.34" lengthAdjust="spacingAndGlyphs" >20:00</text>
<rect x="848" y="753" width="1" height="5" fill="#808080"/>
<text x="849" y="771" fill="#000" text-anchor="middle" font-size="12" textLength="27.34" lengthAdjust="spacingAndGlyphs" >22:00</text>
<text x="912" y="771" fill="#000" text-anchor="middle" font-size="12" textLength="27.34" lengthAdjust="spacingAndGlyphs" >24:00</text>
<rect x="152" y="751" width="757" height="1" fill="#0000FF"/>
<rect x="314" y="748" width="2" height="13" fill="#808080"/>
<rect x="410" y="752" width="2" height="9" fill="#FFFF00"/>
<rect x="575" y="748" width="2" height="13" fill="#808080"/>
<rect x="657" y="752" width="2" height="9" fill="#FFFF00"/>
<text x="11" y="782" fill="#000" text-anchor="start" font-size="12" textLength="27.34" lengthAdjust="spacingAndGlyphs" >07:47</text>
<path d="M40 781 A4.5 5 0 0 1 49 781 Z" fill="#FFFF00"/>
<rect x="310" y="772" width="11" height="11" fill="#000080"/>
<circle cx="313.2" cy="775.2" r="2.8" fill="#fff"/>
<path d="M317.9 775.5 L320.5 779.5 L319 779.5 L319 783 L317 783 L317 779.5 L315.3 779.5 Z" fill="#FFFF00" stroke="#000" stroke-width="0.6"/>
<text x="322" y="782" fill="#000" text-anchor="start" font-size="12" textLength="27.34" lengthAdjust="spacingAndGlyphs" >05:10</text>
<text x="378" y="782" fill="#000" text-anchor="start" font-size="12" textLength="27.34" lengthAdjust="spacingAndGlyphs" >08:13</text>
<g fill="#FFFFA8"><rect x="410" y="772" width="3" height="1.5"/><rect x="410" y="782.5" width="3" height="1.5"/><rect x="405" y="776.5" width="1.5" height="3"/><rect x="416.5" y="776.5" width="1.5" height="3"/><rect x="407" y="773.5" width="1.5" height="1.5"/><rect x="414.5" y="773" width="1.5" height="1.5"/><rect x="407" y="781" width="1.5" height="1.5"/><rect x="414.5" y="781.5" width="1.5" height="1.5"/></g>
<circle cx="411.5" cy="778" r="3.2" fill="#FFFF00"/>
<rect x="571" y="772" width="11" height="11" fill="#000080"/>
<circle cx="580" cy="781" r="2.8" fill="#fff"/>
<path d="M575 780 L572.3 776 L574 776 L574 772 L576 772 L576 776 L577.7 776 Z" fill="#FFFF00" stroke="#000" stroke-width="0.6"/>
<text x="583" y="782" fill="#000" text-anchor="start" font-size="12" textLength="27.34" lengthAdjust="spacingAndGlyphs" >13:25</text>
<text x="625" y="782" fill="#000" text-anchor="start" font-size="12" textLength="27.34" lengthAdjust="spacingAndGlyphs" >16:00</text>
<rect x="655.5" y="775.5" width="5" height="5" fill="none" stroke="#FFFF66" stroke-width="1"/>
<rect x="1" y="787" width="86" height="76" fill="#006CD9"/>
<rect x="89" y="787" width="115" height="76" fill="#006CD9"/>
<rect x="88" y="787" width="1" height="76" fill="#c8bca8"/>
<rect x="206" y="787" width="116" height="76" fill="#006CD9"/>
<rect x="205" y="787" width="1" height="76" fill="#c8bca8"/>
<rect x="324" y="787" width="115" height="76" fill="#006CD9"/>
<rect x="323" y="787" width="1" height="76" fill="#c8bca8"/>
<rect x="441" y="787" width="117" height="76" fill="#006CD9"/>
<rect x="440" y="787" width="1" height="76" fill="#c8bca8"/>
<rect x="560" y="787" width="115" height="76" fill="#006CD9"/>
<rect x="559" y="787" width="1" height="76" fill="#c8bca8"/>
<rect x="677" y="787" width="117" height="76" fill="#006CD9"/>
<rect x="676" y="787" width="1" height="76" fill="#c8bca8"/>
<rect x="796" y="787" width="116" height="76" fill="#006CD9"/>
<rect x="795" y="787" width="1" height="76" fill="#c8bca8"/>
<rect x="914" y="787" width="109" height="76" fill="#006CD9"/>
<rect x="913" y="787" width="1" height="76" fill="#c8bca8"/>
<rect x="1023" y="787" width="1" height="76" fill="#c8bca8"/>
<text x="8" y="805" fill="#000" text-anchor="start" font-size="12" font-weight="bold" textLength="39.06" lengthAdjust="spacingAndGlyphs" >Sensor</text>
<text x="8" y="821" fill="#000" text-anchor="start" font-size="12" font-weight="bold" textLength="45.24" lengthAdjust="spacingAndGlyphs" >MinWert</text>
<text x="8" y="837" fill="#000" text-anchor="start" font-size="12" font-weight="bold" textLength="47.81" lengthAdjust="spacingAndGlyphs" >MaxWert</text>
<text x="8" y="853" fill="#000" text-anchor="start" font-size="12" font-weight="bold" textLength="71.06" lengthAdjust="spacingAndGlyphs" >Durchschnitt</text>
<text x="8" y="869" fill="#000" text-anchor="start" font-size="12" font-weight="bold" textLength="64.71" lengthAdjust="spacingAndGlyphs" >17.12. 23:55</text>
<text x="96" y="805" fill="#000" text-anchor="start" font-size="12" font-weight="bold" textLength="62.54" lengthAdjust="spacingAndGlyphs" >Temperatur</text>
<text x="198" y="805" fill="#000" text-anchor="end" font-size="12" font-weight="bold" textLength="12.93" lengthAdjust="spacingAndGlyphs" >°C</text>
<text x="101" y="821" fill="#000" text-anchor="start" font-size="12" textLength="27.34" lengthAdjust="spacingAndGlyphs" >08:35</text>
<text x="198" y="821" fill="#000" text-anchor="end" font-size="12" textLength="15.19" lengthAdjust="spacingAndGlyphs" >0.6</text>
<text x="101" y="837" fill="#000" text-anchor="start" font-size="12" textLength="27.34" lengthAdjust="spacingAndGlyphs" >12:15</text>
<text x="198" y="837" fill="#000" text-anchor="end" font-size="12" textLength="15.19" lengthAdjust="spacingAndGlyphs" >5.8</text>
<text x="198" y="853" fill="#000" text-anchor="end" font-size="12" textLength="21.26" lengthAdjust="spacingAndGlyphs" >3.74</text>
<text x="96" y="869" fill="#000" text-anchor="start" font-size="12" textLength="34.01" lengthAdjust="spacingAndGlyphs" >5.86 %</text>
<text x="198" y="869" fill="#00FF00" text-anchor="end" font-size="12" font-weight="bold" textLength="16.02" lengthAdjust="spacingAndGlyphs" >3.3</text>
<text x="213" y="805" fill="#000" text-anchor="start" font-size="12" font-weight="bold" textLength="62.73" lengthAdjust="spacingAndGlyphs" >Luftfeuchte</text>
<text x="316" y="805" fill="#000" text-anchor="end" font-size="12" font-weight="bold" textLength="10.24" lengthAdjust="spacingAndGlyphs" >%</text>
<text x="218" y="821" fill="#000" text-anchor="start" font-size="12" textLength="27.34" lengthAdjust="spacingAndGlyphs" >12:35</text>
<text x="316" y="821" fill="#000" text-anchor="end" font-size="12" textLength="12.15" lengthAdjust="spacingAndGlyphs" >82</text>
<text x="218" y="837" fill="#000" text-anchor="start" font-size="12" textLength="27.34" lengthAdjust="spacingAndGlyphs" >09:15</text>
<text x="316" y="837" fill="#000" text-anchor="end" font-size="12" textLength="12.15" lengthAdjust="spacingAndGlyphs" >96</text>
<text x="316" y="853" fill="#000" text-anchor="end" font-size="12" textLength="12.15" lengthAdjust="spacingAndGlyphs" >89</text>
<text x="213" y="869" fill="#000" text-anchor="start" font-size="12" textLength="46.14" lengthAdjust="spacingAndGlyphs" >5.33 g/m³</text>
<text x="316" y="869" fill="#00FF00" text-anchor="end" font-size="12" font-weight="bold" textLength="12.82" lengthAdjust="spacingAndGlyphs" >86</text>
<text x="331" y="805" fill="#000" text-anchor="start" font-size="12" font-weight="bold" textLength="53.13" lengthAdjust="spacingAndGlyphs" >Luftdruck</text>
<text x="433" y="805" fill="#000" text-anchor="end" font-size="12" font-weight="bold" textLength="21.13" lengthAdjust="spacingAndGlyphs" >hPa</text>
<text x="336" y="821" fill="#000" text-anchor="start" font-size="12" textLength="27.34" lengthAdjust="spacingAndGlyphs" >00:00</text>
<text x="433" y="821" fill="#000" text-anchor="end" font-size="12" textLength="33.41" lengthAdjust="spacingAndGlyphs" >1019.5</text>
<text x="336" y="837" fill="#000" text-anchor="start" font-size="12" textLength="27.34" lengthAdjust="spacingAndGlyphs" >10:25</text>
<text x="433" y="837" fill="#000" text-anchor="end" font-size="12" textLength="33.41" lengthAdjust="spacingAndGlyphs" >1022.6</text>
<text x="331" y="853" fill="#000" text-anchor="start" font-size="12" textLength="48.86" lengthAdjust="spacingAndGlyphs" >^1.0hPa/h</text>
<text x="433" y="853" fill="#000" text-anchor="end" font-size="12" textLength="33.41" lengthAdjust="spacingAndGlyphs" >1020.9</text>
<text x="331" y="869" fill="#000" text-anchor="start" font-size="12" textLength="3.64" lengthAdjust="spacingAndGlyphs" >-</text>
<text x="433" y="869" fill="#00FF00" text-anchor="end" font-size="12" font-weight="bold" textLength="35.25" lengthAdjust="spacingAndGlyphs" >1020.5</text>
<text x="448" y="805" fill="#000" text-anchor="start" font-size="12" font-weight="bold" textLength="99.99" lengthAdjust="spacingAndGlyphs" >Windgeschw.km/h</text>
<text x="448" y="821" fill="#000" text-anchor="start" font-size="12" textLength="47.35" lengthAdjust="spacingAndGlyphs" >Ø 10 min.</text>
<text x="552" y="821" fill="#000" text-anchor="end" font-size="12" textLength="15.19" lengthAdjust="spacingAndGlyphs" >1.8</text>
<text x="453" y="837" fill="#000" text-anchor="start" font-size="12" textLength="27.34" lengthAdjust="spacingAndGlyphs" >19:50</text>
<text x="552" y="837" fill="#000" text-anchor="end" font-size="12" textLength="44.92" lengthAdjust="spacingAndGlyphs" >S-SO 9.4</text>
<text x="453" y="853" fill="#000" text-anchor="start" font-size="12" textLength="32.78" lengthAdjust="spacingAndGlyphs" >1.2 km</text>
<text x="552" y="853" fill="#000" text-anchor="end" font-size="12" textLength="15.19" lengthAdjust="spacingAndGlyphs" >1.2</text>
<text x="448" y="869" fill="#000" text-anchor="start" font-size="12" textLength="41.28" lengthAdjust="spacingAndGlyphs" >0.0 % W</text>
<text x="552" y="869" fill="#000" text-anchor="end" font-size="12" font-weight="bold" textLength="16.02" lengthAdjust="spacingAndGlyphs" >0.0</text>
<text x="567" y="805" fill="#000" text-anchor="start" font-size="12" font-weight="bold" textLength="55.58" lengthAdjust="spacingAndGlyphs" >Windböen</text>
<text x="669" y="805" fill="#000" text-anchor="end" font-size="12" font-weight="bold" textLength="26.89" lengthAdjust="spacingAndGlyphs" >km/h</text>
<text x="567" y="821" fill="#000" text-anchor="start" font-size="12" textLength="47.35" lengthAdjust="spacingAndGlyphs" >Ø 10 min.</text>
<text x="669" y="821" fill="#000" text-anchor="end" font-size="12" textLength="15.19" lengthAdjust="spacingAndGlyphs" >1.8</text>
<text x="572" y="837" fill="#000" text-anchor="start" font-size="12" textLength="27.34" lengthAdjust="spacingAndGlyphs" >18:45</text>
<text x="669" y="837" fill="#000" text-anchor="end" font-size="12" textLength="32.18" lengthAdjust="spacingAndGlyphs" >N 13.0</text>
<text x="572" y="853" fill="#000" text-anchor="start" font-size="12" textLength="32.78" lengthAdjust="spacingAndGlyphs" >1.2 km</text>
<text x="669" y="853" fill="#000" text-anchor="end" font-size="12" textLength="15.19" lengthAdjust="spacingAndGlyphs" >1.2</text>
<text x="567" y="869" fill="#000" text-anchor="start" font-size="12" textLength="38.86" lengthAdjust="spacingAndGlyphs" >0.0 % N</text>
<text x="669" y="869" fill="#000" text-anchor="end" font-size="12" font-weight="bold" textLength="16.02" lengthAdjust="spacingAndGlyphs" >0.0</text>
<text x="684" y="805" fill="#000" text-anchor="start" font-size="12" font-weight="bold" textLength="49.92" lengthAdjust="spacingAndGlyphs" >Richtung</text>
<text x="689" y="821" fill="#000" text-anchor="start" font-size="12" textLength="27.34" lengthAdjust="spacingAndGlyphs" >16:25</text>
<text x="788" y="821" fill="#000" text-anchor="end" font-size="12" textLength="15.78" lengthAdjust="spacingAndGlyphs" >SO</text>
<text x="689" y="837" fill="#000" text-anchor="start" font-size="12" textLength="27.34" lengthAdjust="spacingAndGlyphs" >03:05</text>
<text x="788" y="837" fill="#000" text-anchor="end" font-size="12" textLength="18.20" lengthAdjust="spacingAndGlyphs" >NW</text>
<text x="788" y="853" fill="#000" text-anchor="end" font-size="12" textLength="7.28" lengthAdjust="spacingAndGlyphs" >S</text>
<text x="684" y="869" fill="#000" text-anchor="start" font-size="12" textLength="25.63" lengthAdjust="spacingAndGlyphs" >270 °</text>
<text x="788" y="869" fill="#000" text-anchor="end" font-size="12" font-weight="bold" textLength="10.88" lengthAdjust="spacingAndGlyphs" >W</text>
<text x="803" y="805" fill="#000" text-anchor="start" font-size="12" font-weight="bold" textLength="35.22" lengthAdjust="spacingAndGlyphs" >Regen</text>
<text x="906" y="805" fill="#000" text-anchor="end" font-size="12" font-weight="bold" textLength="20.49" lengthAdjust="spacingAndGlyphs" >l/m²</text>
<text x="803" y="821" fill="#000" text-anchor="start" font-size="12" textLength="29.75" lengthAdjust="spacingAndGlyphs" >0 min.</text>
<text x="808" y="837" fill="#000" text-anchor="start" font-size="12" textLength="27.34" lengthAdjust="spacingAndGlyphs" >00:00</text>
<text x="906" y="837" fill="#000" text-anchor="end" font-size="12" textLength="15.19" lengthAdjust="spacingAndGlyphs" >0.0</text>
<text x="803" y="853" fill="#000" text-anchor="start" font-size="12" textLength="41.27" lengthAdjust="spacingAndGlyphs" >Gesamt:</text>
<text x="906" y="853" fill="#000" text-anchor="end" font-size="12" textLength="15.19" lengthAdjust="spacingAndGlyphs" >0.0</text>
<text x="803" y="869" fill="#000" text-anchor="start" font-size="12" textLength="36.42" lengthAdjust="spacingAndGlyphs" >0.0 l/m²</text>
<text x="906" y="869" fill="#00FF00" text-anchor="end" font-size="12" font-weight="bold" textLength="16.02" lengthAdjust="spacingAndGlyphs" >0.0</text>
<text x="919.5" y="805" fill="#000" text-anchor="start" font-size="12" textLength="60.32" lengthAdjust="spacingAndGlyphs" >Virtual Temp</text>
<text x="1022.3" y="805" fill="#000" text-anchor="end" font-size="12" textLength="27.44" lengthAdjust="spacingAndGlyphs" >4.0°C</text>
<text x="919.5" y="821" fill="#000" text-anchor="start" font-size="12" textLength="52.84" lengthAdjust="spacingAndGlyphs" >Regen/Tag</text>
<text x="1022.3" y="821" fill="#000" text-anchor="end" font-size="12" textLength="33.38" lengthAdjust="spacingAndGlyphs" >0.0l/m²</text>
<text x="919.5" y="837" fill="#000" text-anchor="start" font-size="12" textLength="47.36" lengthAdjust="spacingAndGlyphs" >Neumond</text>
<text x="1022.3" y="837" fill="#000" text-anchor="end" font-size="12" textLength="42.52" lengthAdjust="spacingAndGlyphs" >20.12.06</text>
<text x="919.5" y="853" fill="#000" text-anchor="start" font-size="12" textLength="44.93" lengthAdjust="spacingAndGlyphs" >Vollmond</text>
<text x="1022.3" y="853" fill="#000" text-anchor="end" font-size="12" textLength="42.52" lengthAdjust="spacingAndGlyphs" >03.01.07</text>
<text x="919.5" y="869" fill="#000" text-anchor="start" font-size="12" textLength="57.08" lengthAdjust="spacingAndGlyphs" >Mondphase</text>
<text x="1022.3" y="869" fill="#000" text-anchor="end" font-size="12" textLength="15.79" lengthAdjust="spacingAndGlyphs" >7%</text>
</svg></body></html>
